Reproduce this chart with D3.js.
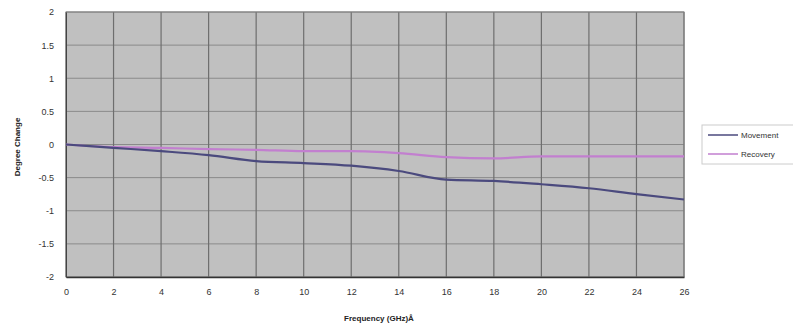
<!DOCTYPE html>
<html>
<head>
<meta charset="utf-8">
<script src="https://cdn.jsdelivr.net/npm/d3@7"></script>
<style>
  body { margin: 0; background: #fff; }
  svg { display: block; font-family: Arial, "Liberation Sans", sans-serif; }
  .tick text { fill: #333; font-size: 9px; }
</style>
</head>
<body>
<svg id="chart"></svg>
<script>
const frequency = [0, 2, 4, 6, 8, 10, 12, 14, 16, 18, 20, 22, 24, 26];
const movement  = [0, -0.05, -0.1, -0.16, -0.25, -0.28, -0.32, -0.4, -0.53, -0.55, -0.6, -0.66, -0.75, -0.83];
const recovery  = [0, -0.04, -0.05, -0.07, -0.08, -0.1, -0.1, -0.13, -0.19, -0.21, -0.18, -0.18, -0.18, -0.18];
const yTicks = [-2, -1.5, -1, -0.5, 0, 0.5, 1, 1.5, 2];
const seriesNames = ["Movement", "Recovery"];
const seriesColors = ["#4b4a7e", "#c27fcf"];

const width = 793, height = 329;
const plotLeft = 66, plotRight = 684, plotTop = 12, plotBottom = 277;

const svg = d3.select("#chart")
  .attr("width", width)
  .attr("height", height);

const x = d3.scaleLinear().domain([0, 26]).range([plotLeft, plotRight]);
const y = d3.scaleLinear().domain([-2, 2]).range([plotBottom, plotTop]);

// plot background
svg.append("rect")
  .attr("x", plotLeft).attr("y", plotTop)
  .attr("width", plotRight - plotLeft).attr("height", plotBottom - plotTop)
  .attr("fill", "#c0c0c0");

// horizontal grid
svg.append("g")
  .selectAll("line")
  .data(yTicks)
  .enter().append("line")
  .attr("x1", plotLeft).attr("x2", plotRight)
  .attr("y1", d => y(d)).attr("y2", d => y(d))
  .attr("stroke", "#8a8a8a")
  .attr("stroke-width", 1);

// vertical grid
svg.append("g")
  .selectAll("line")
  .data(frequency)
  .enter().append("line")
  .attr("x1", d => x(d)).attr("x2", d => x(d))
  .attr("y1", plotTop).attr("y2", plotBottom)
  .attr("stroke", "#6e6e6e")
  .attr("stroke-width", 1.2);

// plot border
svg.append("rect")
  .attr("x", plotLeft).attr("y", plotTop)
  .attr("width", plotRight - plotLeft).attr("height", plotBottom - plotTop)
  .attr("fill", "none")
  .attr("stroke", "#808080");

// x axis
const xAxisG = svg.append("g")
  .attr("transform", "translate(0," + plotBottom + ")")
  .call(d3.axisBottom(x).tickValues(frequency).tickSize(0).tickPadding(12));
xAxisG.select(".domain").attr("stroke", "#333").attr("stroke-width", 1.5);

// y axis
const yAxisG = svg.append("g")
  .attr("transform", "translate(" + plotLeft + ",0)")
  .call(d3.axisLeft(y).tickValues(yTicks).tickSize(0).tickPadding(12)
    .tickFormat(d => String(d)));
yAxisG.select(".domain").attr("stroke", "#444").attr("stroke-width", 1);

// series lines
const line = d3.line()
  .x((d, i) => x(frequency[i]))
  .y(d => y(d))
  .curve(d3.curveMonotoneX);

[recovery, movement].forEach((vals, k) => {
  const idx = k === 0 ? 1 : 0;
  svg.append("path")
    .datum(vals)
    .attr("d", line)
    .attr("fill", "none")
    .attr("stroke", seriesColors[idx])
    .attr("stroke-width", 2.2);
});

// axis titles
svg.append("text")
  .attr("x", 379).attr("y", 321)
  .attr("text-anchor", "middle")
  .attr("font-size", 8)
  .attr("font-weight", "bold")
  .attr("fill", "#222")
  .text("Frequency (GHz)Å");

svg.append("text")
  .attr("transform", "translate(20,147) rotate(-90)")
  .attr("text-anchor", "middle")
  .attr("font-size", 8)
  .attr("font-weight", "bold")
  .attr("fill", "#222")
  .text("Degree Change");

// legend
const legend = svg.append("g").attr("transform", "translate(702,125)");
legend.append("rect")
  .attr("width", 100).attr("height", 39)
  .attr("fill", "#fff")
  .attr("stroke", "#ccc");

const items = legend.selectAll("g.item")
  .data(seriesNames)
  .enter().append("g")
  .attr("transform", (d, i) => "translate(6," + (10 + i * 19) + ")");
items.append("line")
  .attr("x1", 0).attr("x2", 30)
  .attr("stroke", (d, i) => seriesColors[i])
  .attr("stroke-width", 1.5);
items.append("text")
  .attr("x", 33).attr("y", 3)
  .attr("font-size", 8)
  .attr("fill", "#333")
  .text(d => d);
</script>
</body>
</html>
